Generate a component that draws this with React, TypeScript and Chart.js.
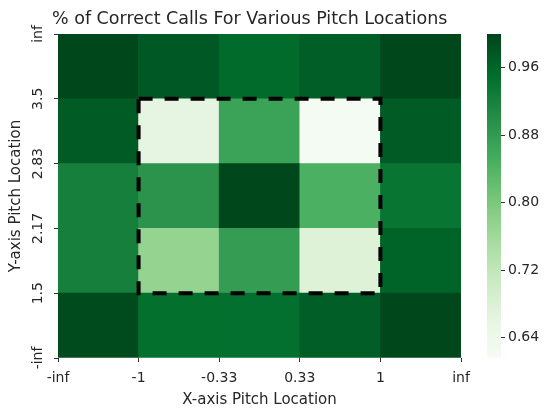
import React, { useEffect, useRef } from 'react';
import { Chart, registerables } from 'chart.js';

Chart.register(...registerables);

// Tick labels at cell boundaries
const xTickLabels = ['-inf', '-1', '-0.33', '0.33', '1', 'inf'];
const yTickLabels = ['-inf', '1.5', '2.17', '2.83', '3.5', 'inf'];

// Heatmap values, one array per row (bottom row first), columns left to right
const rowBelow1_5 = [0.992, 0.948, 0.947, 0.969, 0.996];
const row1_5to2_17 = [0.923, 0.773, 0.877, 0.677, 0.962];
const row2_17to2_83 = [0.923, 0.892, 0.996, 0.846, 0.939];
const row2_83to3_5 = [0.973, 0.662, 0.868, 0.624, 0.973];
const rowAbove3_5 = [0.996, 0.975, 0.954, 0.969, 0.996];
const heatRows = [rowBelow1_5, row1_5to2_17, row2_17to2_83, row2_83to3_5, rowAbove3_5];

// Strike-zone box in cell units
const zoneX = [1, 4];
const zoneY = [1, 4];

// Colorbar
const colorbarTicks = [0.64, 0.72, 0.8, 0.88, 0.96];
const vMin = 0.616;
const vMax = 1.0;

const GREENS: [number, number, number][] = [
  [247, 252, 245],
  [229, 245, 224],
  [199, 233, 192],
  [161, 217, 155],
  [116, 196, 118],
  [65, 171, 93],
  [35, 139, 69],
  [0, 109, 44],
  [0, 68, 27],
];

function greensAt(t: number): string {
  const tt = Math.max(0, Math.min(1, t)) * (GREENS.length - 1);
  const i = Math.min(GREENS.length - 2, Math.floor(tt));
  const f = tt - i;
  const a = GREENS[i];
  const b = GREENS[i + 1];
  const c = a.map((v, k) => Math.round(v + (b[k] - v) * f));
  return `rgb(${c[0]},${c[1]},${c[2]})`;
}

function colorFor(v: number): string {
  return greensAt((v - vMin) / (vMax - vMin));
}

const FONT = "'DejaVu Sans', sans-serif";
const TEXT = '#262626';

export default function App() {
  const heatRef = useRef<HTMLCanvasElement>(null);
  const barRef = useRef<HTMLCanvasElement>(null);

  useEffect(() => {
    if (!heatRef.current || !barRef.current) return;

    const datasets = heatRows.map((row, r) => ({
      data: row.map((_v, c) => ({ x: c + 0.5, y: [r, r + 1] })),
      backgroundColor: row.map((v) => colorFor(v)),
      borderWidth: 0,
      barPercentage: 1,
      categoryPercentage: 1,
      grouped: false,
    }));

    const overlay = {
      id: 'overlay',
      afterDatasetsDraw(chart: any) {
        const { ctx, scales, chartArea } = chart;
        const xs = scales.x;
        const ys = scales.y;
        const x1 = xs.getPixelForValue(zoneX[0]);
        const x2 = xs.getPixelForValue(zoneX[1]);
        const y1 = ys.getPixelForValue(zoneY[1]);
        const y2 = ys.getPixelForValue(zoneY[0]);
        ctx.save();
        ctx.strokeStyle = '#000';
        ctx.lineWidth = 4;
        ctx.setLineDash([14, 12]);
        ctx.strokeRect(x1, y1, x2 - x1, y2 - y1);
        ctx.restore();

        ctx.save();
        ctx.fillStyle = TEXT;
        ctx.font = `17.5px ${FONT}`;
        ctx.textAlign = 'left';
        ctx.textBaseline = 'middle';
        ctx.fillText('% of Correct Calls For Various Pitch Locations', chartArea.left - 6, 19);
        ctx.restore();
      },
    };

    const heat = new Chart(heatRef.current, {
      type: 'bar',
      data: { datasets: datasets as any },
      options: {
        animation: false,
        responsive: false,
        layout: { padding: { left: 0, top: 34, right: 86, bottom: 0 } },
        plugins: { legend: { display: false }, tooltip: { enabled: false } },
        scales: {
          x: {
            type: 'linear',
            min: 0,
            max: 5,
            offset: false,
            grid: { offset: false, drawOnChartArea: false, tickLength: 4, color: '#333' },
            border: { display: false },
            ticks: {
              stepSize: 1,
              font: { family: FONT, size: 14 },
              color: TEXT,
              padding: 8,
              maxRotation: 0,
              autoSkip: false,
              callback: (v: any) => xTickLabels[Math.round(Number(v))],
            },
            title: {
              display: true,
              text: 'X-axis Pitch Location',
              font: { family: FONT, size: 15 },
              color: TEXT,
              padding: { top: 0, bottom: 0 },
            },
            afterFit: (s: any) => {
              s.height = 51;
            },
          },
          y: {
            type: 'linear',
            min: 0,
            max: 5,
            grid: { drawOnChartArea: false, tickLength: 4, color: '#333' },
            border: { display: false },
            ticks: {
              stepSize: 1,
              font: { family: FONT, size: 14 },
              color: TEXT,
              padding: 0,
              minRotation: 90,
              maxRotation: 90,
              crossAlign: 'center',
              autoSkip: false,
              callback: (v: any) => yTickLabels[Math.round(Number(v))],
            },
            title: {
              display: true,
              text: 'Y-axis Pitch Location',
              font: { family: FONT, size: 15 },
              color: TEXT,
              padding: { top: 7, bottom: 0 },
            },
            afterFit: (s: any) => {
              s.width = 58;
            },
          },
        },
      },
      plugins: [overlay],
    } as any);

    const cb = new Chart(barRef.current, {
      type: 'bar',
      data: {
        labels: [''],
        datasets: [
          {
            data: [[vMin, vMax]],
            borderWidth: 0,
            barPercentage: 1,
            categoryPercentage: 1,
            backgroundColor: (ctx: any) => {
              const area = ctx.chart.chartArea;
              if (!area) return 'rgb(116,196,118)';
              const g = ctx.chart.ctx.createLinearGradient(0, area.bottom, 0, area.top);
              GREENS.forEach((c, i) => {
                g.addColorStop(i / (GREENS.length - 1), `rgb(${c[0]},${c[1]},${c[2]})`);
              });
              return g;
            },
          },
        ],
      },
      options: {
        animation: false,
        responsive: false,
        layout: { padding: { left: 17, top: 34, right: 0, bottom: 51 } },
        plugins: { legend: { display: false }, tooltip: { enabled: false } },
        scales: {
          x: { display: false },
          y: {
            position: 'right',
            min: vMin,
            max: vMax,
            grid: { drawOnChartArea: false, tickLength: 4, color: '#333' },
            border: { display: false },
            afterBuildTicks: (s: any) => {
              s.ticks = colorbarTicks.map((v) => ({ value: v }));
            },
            ticks: {
              font: { family: FONT, size: 14 },
              color: TEXT,
              padding: 3,
              callback: (v: any) => Number(v).toFixed(2),
            },
            afterFit: (s: any) => {
              s.width = 46;
            },
          },
        },
      },
    } as any);

    return () => {
      heat.destroy();
      cb.destroy();
    };
  }, []);

  return (
    <div>
      <canvas
        ref={heatRef}
        width={547}
        height={409}
        style={{ position: 'fixed', left: 0, top: 0, width: 547, height: 409 }}
      />
      <canvas
        ref={barRef}
        width={77}
        height={409}
        style={{ position: 'fixed', left: 470, top: 0, width: 77, height: 409 }}
      />
    </div>
  );
}
